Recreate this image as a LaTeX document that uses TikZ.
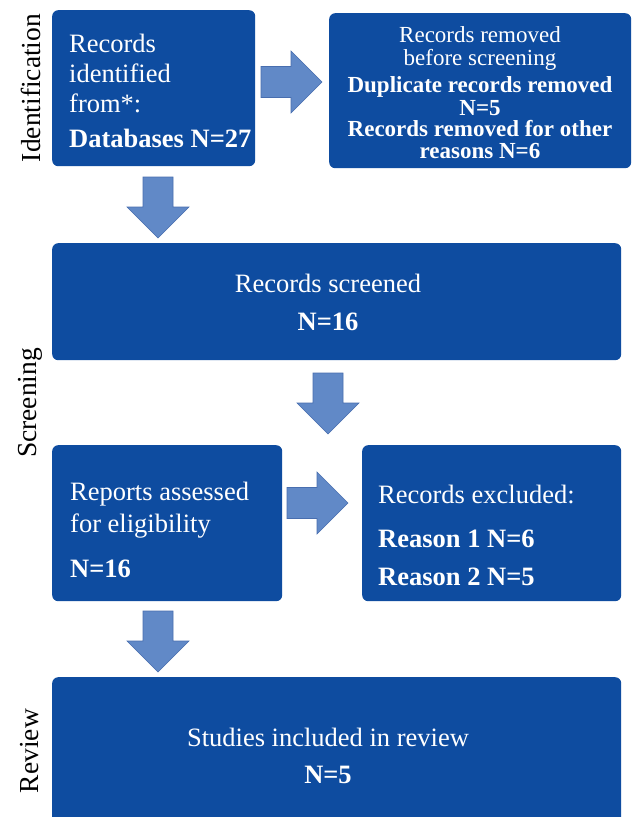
\documentclass[tikz,border=0pt]{standalone}
\usepackage{fontspec}
\setmainfont{Liberation Serif}
\definecolor{boxblue}{RGB}{14,76,160}
\definecolor{arrfill}{RGB}{97,137,199}
\definecolor{arredge}{RGB}{72,110,175}
\tikzset{
  box/.style={fill=boxblue, rounded corners=6pt, draw=none, inner sep=0pt, anchor=north west},
  txt/.style={text=white, inner sep=0pt, font=\fontsize{26.5}{30}\selectfont},
  btxt/.style={text=white, inner sep=0pt, font=\fontsize{26.5}{30}\selectfont\bfseries},
  stxt/.style={text=white, inner sep=0pt, anchor=base, font=\fontsize{23}{25}\selectfont},
  sbtxt/.style={text=white, inner sep=0pt, anchor=base, font=\fontsize{23}{25}\selectfont\bfseries},
  side/.style={rotate=90, inner sep=0pt, font=\fontsize{27.5}{30}\selectfont},
  blockarrow/.style={fill=arrfill, draw=arredge, line width=0.6pt},
  rarrow/.pic={\draw[blockarrow] (0,-15.5) -- (30,-15.5) -- (30,-31) -- (61,0) -- (30,31) -- (30,15.5) -- (0,15.5) -- cycle;},
  darrow/.pic={\draw[blockarrow] (-15,0) -- (-15,30) -- (-31,30) -- (0,61) -- (31,30) -- (15,30) -- (15,0) -- cycle;},
}
\begin{document}
\begin{tikzpicture}[x=1pt,y=-1pt]
\useasboundingbox (0,0) rectangle (634,817);
\clip (0,0) rectangle (634,817);
\fill[white] (0,0) rectangle (634,817);

% boxes
\node[box, minimum width=203pt, minimum height=156pt] (b1) at (52,10) {};
\node[box, minimum width=302pt, minimum height=155pt] (b2) at (329,13) {};
\node[box, minimum width=569pt, minimum height=117pt] (b3) at (52,243) {};
\node[box, minimum width=230pt, minimum height=156pt] (b4) at (52,445) {};
\node[box, minimum width=259pt, minimum height=156pt] (b5) at (362,445) {};
\node[box, minimum width=569pt, minimum height=170pt] (b6) at (52,677) {};

% block arrows
\pic at (261,82) {rarrow};
\pic at (287,503) {rarrow};
\pic at (158,177) {darrow};
\pic at (328,373) {darrow};
\pic at (158,611) {darrow};

% box 1
\node[txt, anchor=base west] (t11) at (69,52) {Records};
\node[txt, anchor=base west] (t12) at (69,82) {identified};
\node[txt, anchor=base west] (t13) at (69,112) {from*:};
\node[btxt, anchor=base west] (t14) at (69,147) {Databases N=27};

% box 2
\node[stxt] (t21) at (480,42) {Records removed};
\node[stxt] (t22) at (480,65) {before screening};
\node[sbtxt] (t23) at (480,92) {Duplicate records removed};
\node[sbtxt] (t24) at (480,115) {N=5};
\node[sbtxt] (t25) at (480,136) {Records removed for other};
\node[sbtxt] (t26) at (480,158) {reasons N=6};

% box 3
\node[txt, anchor=base] (t31) at (328,292) {Records screened};
\node[btxt, anchor=base] (t32) at (328,330) {N=16};

% box 4
\node[txt, anchor=base west] (t41) at (70,500) {Reports assessed};
\node[txt, anchor=base west] (t42) at (70,532) {for eligibility};
\node[btxt, anchor=base west] (t43) at (70,577) {N=16};

% box 5
\node[txt, anchor=base west] (t51) at (378,503) {Records excluded:};
\node[btxt, anchor=base west] (t52) at (378,547) {Reason 1 N=6};
\node[btxt, anchor=base west] (t53) at (378,585) {Reason 2 N=5};

% box 6
\node[txt, anchor=base] (t61) at (328,746) {Studies included in review};
\node[btxt, anchor=base] (t62) at (328,783) {N=5};

% side labels
\node[side] (s1) at (31,88) {Identification};
\node[side] (s2) at (30,403) {Screening};
\node[side] (s3) at (30,751) {Review};
\end{tikzpicture}
\end{document}
